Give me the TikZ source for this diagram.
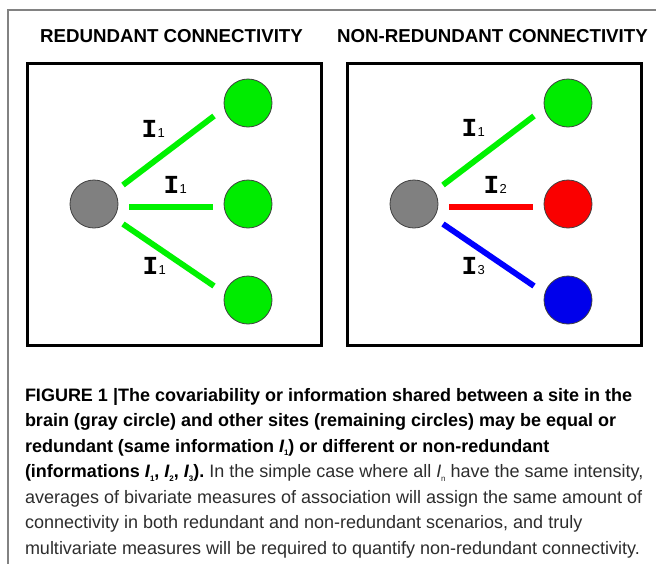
\documentclass[tikz,border=0pt]{standalone}
\usepackage{fontspec}
\setmainfont{Liberation Sans}
\newfontfamily\lmono{Liberation Mono}
\definecolor{brgreen}{RGB}{0,236,0}
\definecolor{lngreen}{RGB}{0,242,0}
\definecolor{brred}{RGB}{250,0,0}
\definecolor{brblue}{RGB}{0,0,235}
\definecolor{sitegray}{RGB}{128,128,128}
\definecolor{framegray}{RGB}{130,130,130}
\definecolor{bodytext}{RGB}{45,45,45}
\newcommand\lblI[1]{{\lmono\bfseries\fontsize{26}{26}\selectfont I}\kern0.5pt{\fontsize{13}{13}\selectfont #1}}
\newcommand\capI[1]{\textit{I}\kern-0.3pt\raisebox{-3.5pt}{\fontsize{8}{8}\selectfont #1}}
\begin{document}
\begin{tikzpicture}[x=1pt,y=-1pt,
  site/.style={circle, draw=black!75, line width=0.8pt, minimum size=48pt, inner sep=0pt, outer sep=0pt},
  panel/.style={draw=black, line width=3pt, minimum width=294pt, minimum height=282pt, inner sep=0pt},
  conn/.style={line width=5.8pt, line cap=butt},
  lbl/.style={anchor=base west, inner sep=0pt, outer sep=0pt},
  ttl/.style={anchor=base, inner sep=0pt, font=\bfseries\fontsize{18.7}{18.7}\selectfont},
  capline/.style={anchor=base west, inner sep=0pt, outer sep=0pt, font=\fontsize{18}{18}\selectfont}
]
\useasboundingbox (0,0) rectangle (656,563);
\fill[white] (0,0) rectangle (656,563);
\draw[framegray, line width=1.3pt] (8,564) -- (8,10) -- (657,10);

% titles
\node[ttl] (tL) at (171.5,42) {REDUNDANT CONNECTIVITY};
\node[ttl] (tR) at (492.5,42) {NON-REDUNDANT CONNECTIVITY};

% panels
\node[panel] (boxL) at (174,204) {};
\node[panel] (boxR) at (494,204) {};

% left panel sites
\node[site, fill=sitegray] (gL) at (94,204) {};
\node[site, fill=brgreen] (aL) at (248,103) {};
\node[site, fill=brgreen] (bL) at (248,204) {};
\node[site, fill=brgreen] (cL) at (248,300) {};

% right panel sites
\node[site, fill=sitegray] (gR) at (414,204) {};
\node[site, fill=brgreen] (aR) at (568,103) {};
\node[site, fill=brred] (bR) at (568,204) {};
\node[site, fill=brblue] (cR) at (568,300) {};

% connector end points
\coordinate (la1) at (123,185);   \coordinate (la2) at (214,116);
\coordinate (lb1) at (129,207);   \coordinate (lb2) at (213,207);
\coordinate (lc1) at (123,224);   \coordinate (lc2) at (214,286);
\coordinate (ra1) at (443,185);   \coordinate (ra2) at (534,116);
\coordinate (rb1) at (449,207);   \coordinate (rb2) at (533,207);
\coordinate (rc1) at (443,224);   \coordinate (rc2) at (534,286);

\draw[conn, lngreen] (la1) -- (la2);
\draw[conn, lngreen] (lb1) -- (lb2);
\draw[conn, lngreen] (lc1) -- (lc2);
\draw[conn, lngreen] (ra1) -- (ra2);
\draw[conn, red] (rb1) -- (rb2);
\draw[conn, blue] (rc1) -- (rc2);

% connector labels
\node[lbl] (ila) at (141.5,137) {\lblI{1}};
\node[lbl] (ilb) at (163.5,193) {\lblI{1}};
\node[lbl] (ilc) at (142.5,274) {\lblI{1}};
\node[lbl] (ira) at (461.5,136) {\lblI{1}};
\node[lbl] (irb) at (483.5,193) {\lblI{2}};
\node[lbl] (irc) at (461.5,274) {\lblI{3}};

% caption
\node[capline] (c1) at (25,401) {\bfseries FIGURE 1 |The covariability or information shared between a site in the};
\node[capline] (c2) at (25,426.5) {\bfseries brain (gray circle) and other sites (remaining circles) may be equal or};
\node[capline] (c3) at (25,452) {\bfseries redundant (same information \capI{1}) or different or non-redundant};
\node[capline] (c4) at (25,477.5) {{\bfseries (informations \capI{1}, \capI{2}, \capI{3}).}\ {\color{bodytext}In the simple case where all \capI{n} have the same intensity,}};
\node[capline, text=bodytext] (c5) at (25,503) {averages of bivariate measures of association will assign the same amount of};
\node[capline, text=bodytext] (c6) at (25,528.5) {connectivity in both redundant and non-redundant scenarios, and truly};
\node[capline, text=bodytext] (c7) at (25,554) {multivariate measures will be required to quantify non-redundant connectivity.};
\end{tikzpicture}
\end{document}
